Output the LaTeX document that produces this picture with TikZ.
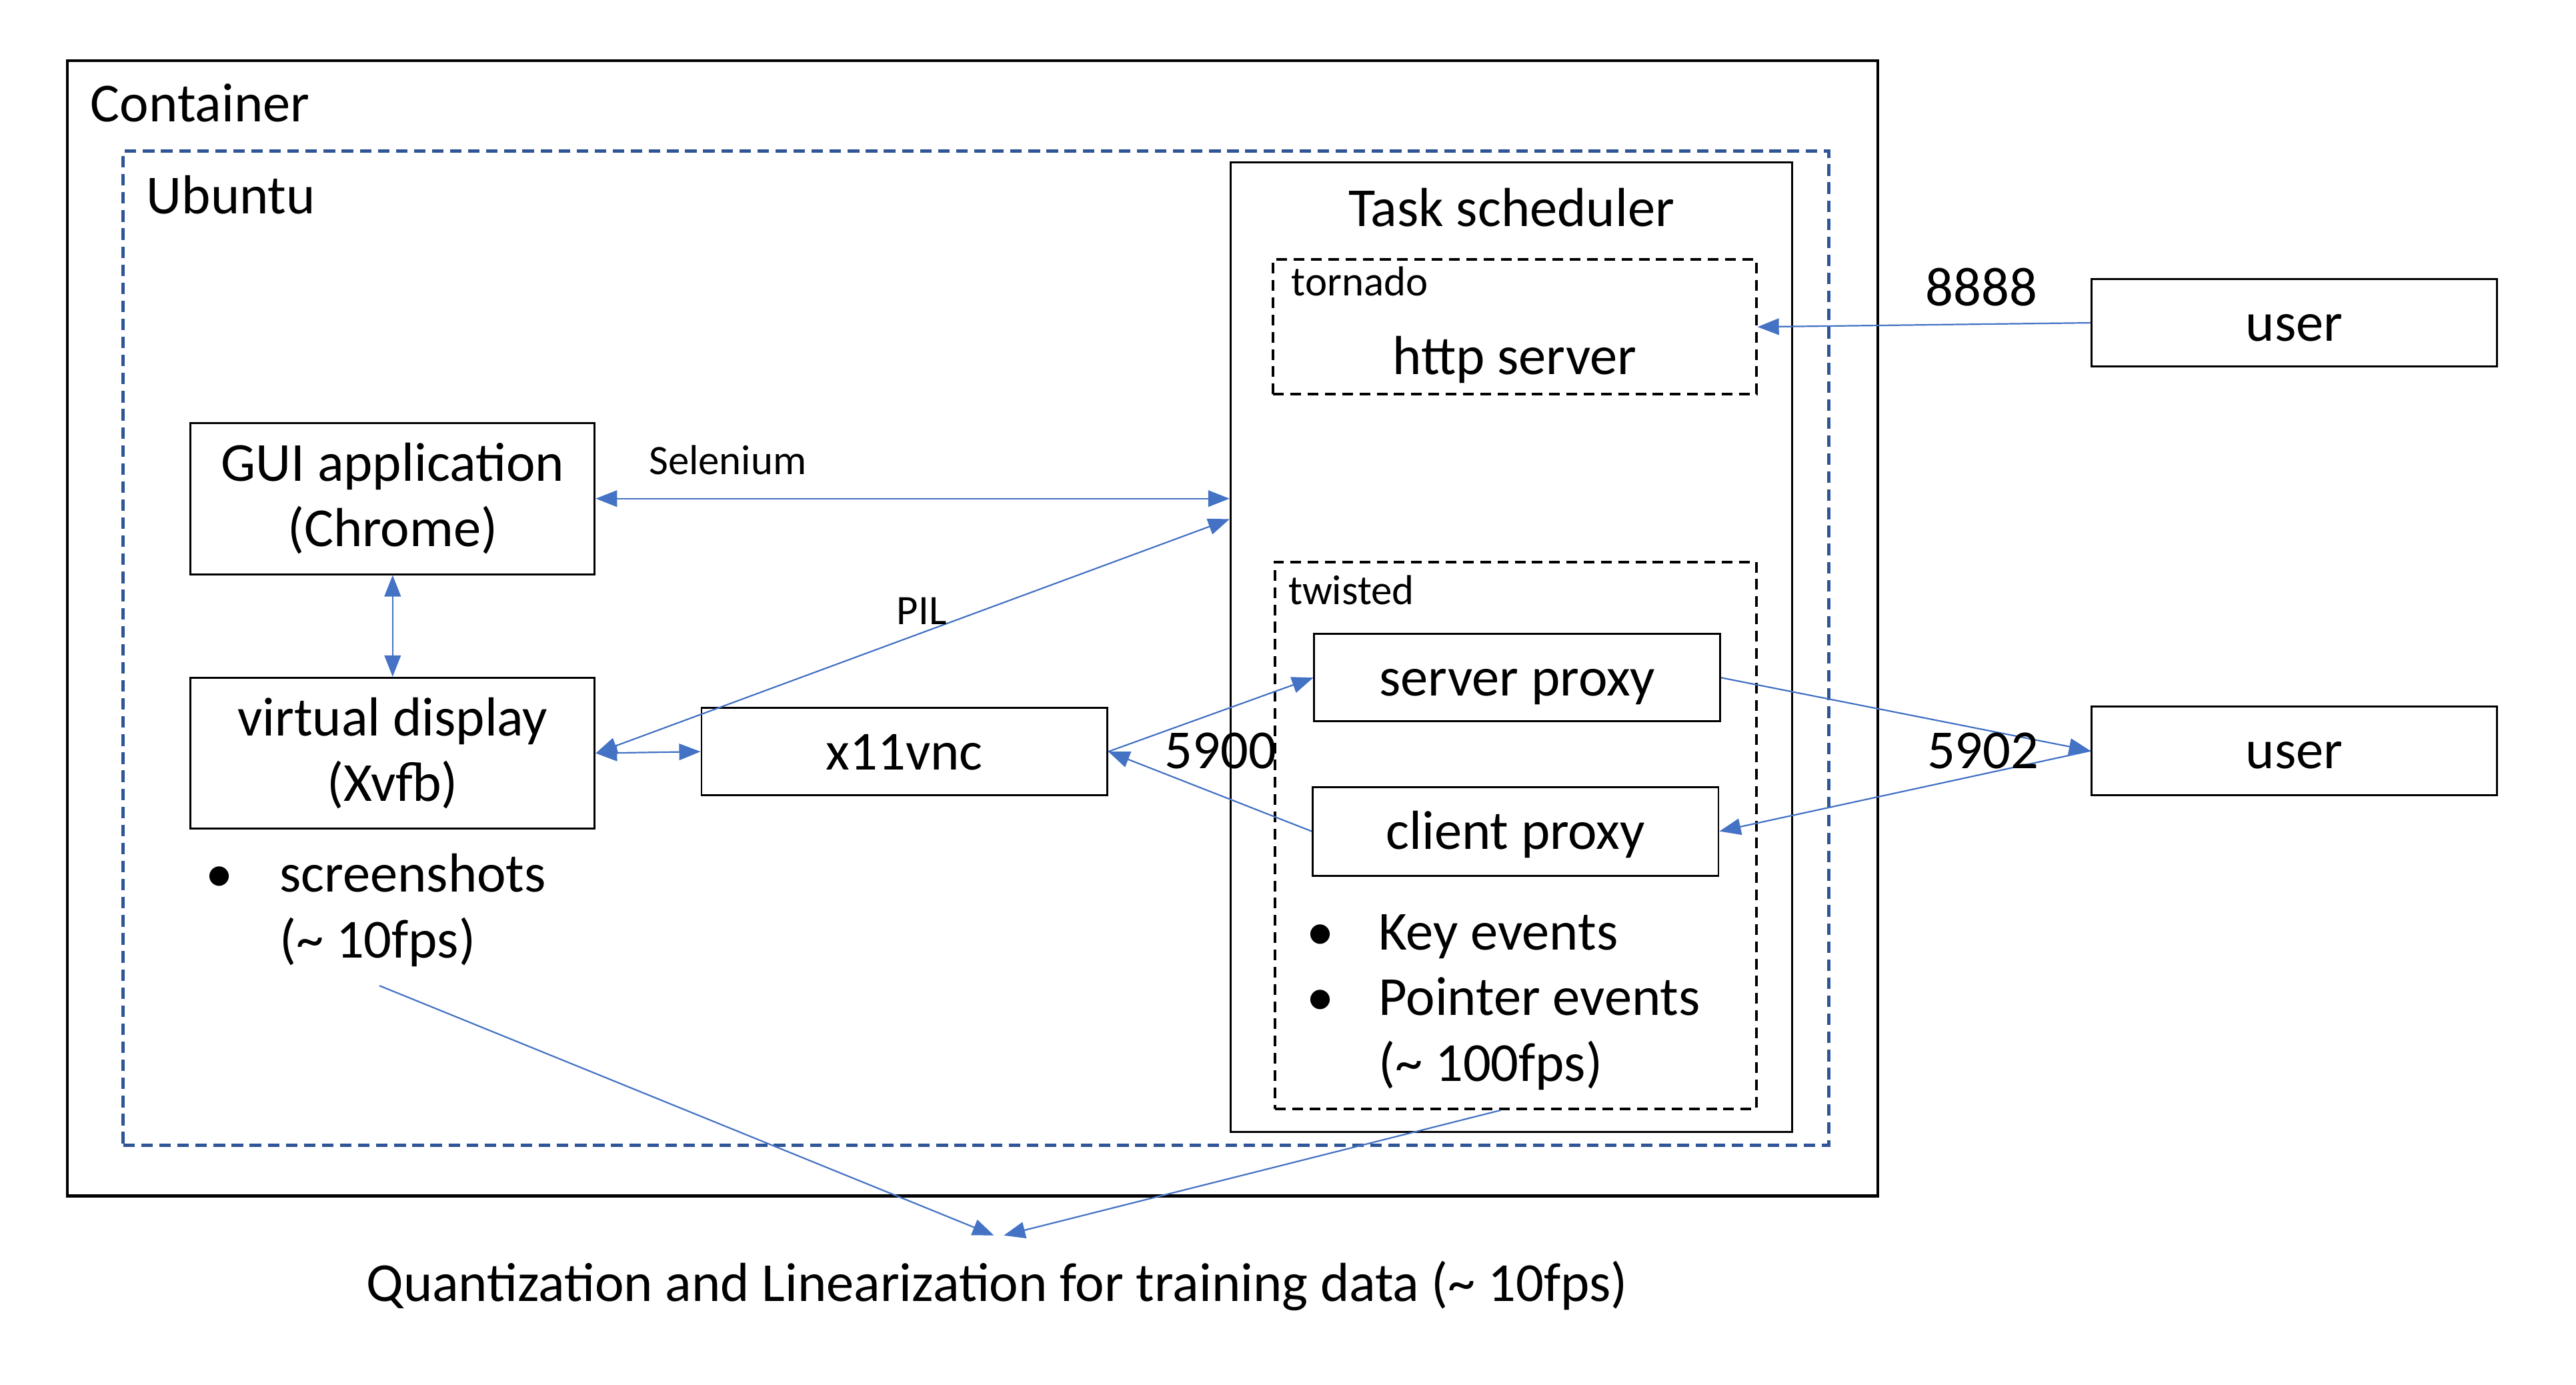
\documentclass[tikz,border=0pt]{standalone}
\usepackage{fontspec}
\setmainfont{Carlito}
\usetikzlibrary{arrows.meta}
\definecolor{linkblue}{HTML}{4472C4}
\definecolor{osblue}{HTML}{2F5597}
\newcommand{\boxfont}{\fontsize{33.5}{40}\selectfont}
\newcommand{\tagfont}{\fontsize{25.5}{30}\selectfont}
\begin{document}
\begin{tikzpicture}[x=1pt,y=-1pt]
        \tikzstyle{every node}=[font=\boxfont]
        \tikzstyle{frame}=[draw, inner sep=0pt, line width=1.2pt]
        \tikzstyle{dashframe}=[frame, line width=1.6pt, dash pattern=on 6.5pt off 4pt]
        \tikzstyle{tallbox}=[draw, line width=1.2pt, minimum width=246pt, minimum height=92pt, inner sep=0pt, align=center]
        \tikzstyle{box}=[draw, line width=1.2pt, minimum width=247pt, minimum height=53pt, inner sep=0pt, text height=24pt, text depth=2pt]
        \tikzstyle{tag}=[inner sep=0pt]
        \tikzstyle{link}=[draw=linkblue, line width=0.9pt, -{Triangle[length=13pt,width=10pt]}]
        \tikzstyle{both}=[link, {Triangle[length=13pt,width=10pt]}-{Triangle[length=13pt,width=10pt]}]
        \useasboundingbox (0,0) rectangle (1568,842.7);
        \node (Container)[frame, line width=1.9pt, minimum width=1102pt, minimum height=691pt] at (592,382.5) {};
        \node (Ubuntu)[frame, draw=osblue, line width=2pt, dash pattern=on 7pt off 4pt, minimum width=1038pt, minimum height=605pt] at (594,394.5) {};
        \node (Scheduler)[frame, minimum width=342pt, minimum height=590pt] at (920,394) {};
        \node (Tornado)[dashframe, minimum width=294pt, minimum height=82pt] at (922,199) {};
        \node (Twisted)[dashframe, minimum width=293pt, minimum height=333pt] at (922.5,508.5) {};
        \node (ContainerTag)[tag, anchor=base west] at (55,74) {Container};
        \node (UbuntuTag)[tag, anchor=base west] at (89,130) {Ubuntu};
        \node (SchedulerTag)[tag, anchor=base] at (920,138) {Task scheduler};
        \node (TornadoTag)[tag, anchor=base west, font=\tagfont] at (786,180) {tornado};
        \node (HttpServer)[tag, anchor=base] at (922,228) {http server};
        \node (TwistedTag)[tag, anchor=base west, font=\tagfont] at (784,368) {twisted};
        \node (GUI)[tallbox] at (239,303.5) {GUI application\\(Chrome)};
        \node (Display)[tallbox] at (239,458.5) {virtual display\\(Xvfb)};
        \node (VNC)[box] at (550.5,457.5) {x11vnc};
        \node (ServerProxy)[box] at (923.5,412.5) {server proxy};
        \node (ClientProxy)[box, minimum height=54pt] at (922.5,506) {client proxy};
        \node (UserHttp)[box] at (1396.5,196.5) {user};
        \node (UserVnc)[box, minimum height=54pt] at (1396.5,457) {user};
        \node (Screenshots)[tag, anchor=base west] at (125,543) {\makebox[45pt][l]{\textbullet}screenshots};
        \node (ShotRate)[tag, anchor=base west] at (170,583) {(\textasciitilde{} 10fps)};
        \node (KeyEvents)[tag, anchor=base west] at (795,578) {\makebox[44pt][l]{\textbullet}Key events};
        \node (PointerEvents)[tag, anchor=base west] at (795,618) {\makebox[44pt][l]{\textbullet}Pointer events};
        \node (EventRate)[tag, anchor=base west] at (839,658) {(\textasciitilde{} 100fps)};
        \draw[both] (GUI.east) -- (GUI.east -| Scheduler.west);
        \node (Selenium)[tag, anchor=base, font=\tagfont] at (443,289) {Selenium};
        \draw[both] (Display.east) -- ([yshift=78pt]Scheduler.west);
        \node (PIL)[tag, anchor=base, font=\tagfont] at (561,380) {PIL};
        \draw[both] (GUI.south) -- (Display.north);
        \draw[both] (Display.east) -- (VNC.west);
        \draw[link] (VNC.east) -- (ServerProxy.west);
        \draw[link] (ClientProxy.west) -- (VNC.east);
        \node (PortVnc)[tag, anchor=base] at (743,468) {5900};
        \draw[link] (ServerProxy.east) -- (UserVnc.west);
        \draw[link] (UserVnc.west) -- (ClientProxy.east);
        \node (PortProxy)[tag, anchor=base] at (1207,468) {5902};
        \draw[link] (UserHttp.west) -- (Tornado.east);
        \node (PortHttp)[tag, anchor=base] at (1206,186) {8888};
        \coordinate (ShotsOut) at (231,600);
        \coordinate (TrainLeft) at (605,752);
        \coordinate (TrainRight) at (611,752);
        \draw[link] (ShotsOut) -- (TrainLeft);
        \draw[link] ([xshift=-9pt]Twisted.south) -- (TrainRight);
        \node (Training)[tag, anchor=base] at (607,792) {Quantization and Linearization for training data (\textasciitilde{} 10fps)};
\end{tikzpicture}
\end{document}
